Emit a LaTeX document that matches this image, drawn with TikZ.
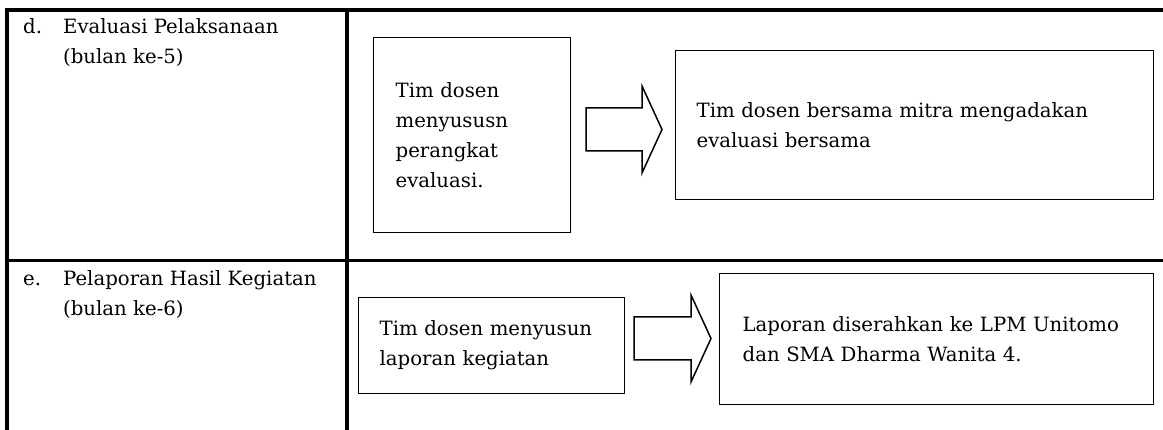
\documentclass[tikz,border=0pt]{standalone}
\usepackage{fontspec}
\setmainfont{DejaVu Serif}
\begin{document}
\begin{tikzpicture}[x=1pt,y=-1pt,
  every node/.style={font=\fontsize{19.7}{30}\selectfont},
  grid/.style={line width=3.8pt, line join=miter},
  box/.style={draw, line width=1.3pt, align=left, anchor=north west, inner ysep=0pt},
  label/.style={anchor=north west, inner sep=0pt, align=left},
  blockarrow/.style={draw, line width=1.5pt, line join=miter}]
\useasboundingbox (0,0) rectangle (1163,430);
% table rules
\draw[grid] (1170,10) -- (7,10) -- (7,440);
\draw[grid] (347,10) -- (347,440);
\draw[grid] (7,260.5) -- (1170,260.5);
% left column
\node[label] (ld) at (23,18) {\makebox[40pt][l]{d.}Evaluasi Pelaksanaan\\\hspace*{40pt}(bulan ke-5)};
\node[label] (le) at (23,270) {\makebox[40pt][l]{e.}Pelaporan Hasil Kegiatan\\\hspace*{40pt}(bulan ke-6)};
% row d
\node[box, text width=153pt, inner xsep=22pt, minimum height=195pt] (d1) at (373,37) {Tim dosen\\menyususn\\perangkat\\evaluasi.};
\node[box, text width=436pt, inner xsep=21pt, minimum height=149pt] (d2) at (675,50) {Tim dosen bersama mitra mengadakan\\evaluasi bersama};
\coordinate (a1) at (586,128.5);
\draw[blockarrow] (a1) ++(0,-20.5) -- ++(56,0) -- ++(0,-22) -- ++(20,43.5) -- ++(-20,43.5) -- ++(0,-22) -- ++(-56,0) -- cycle;
% row e
\node[box, text width=224pt, inner xsep=21pt, minimum height=96pt] (e1) at (358,297) {Tim dosen menyusun\\laporan kegiatan};
\node[box, text width=388pt, inner xsep=23pt, minimum height=131pt] (e2) at (719,273) {Laporan diserahkan ke LPM Unitomo\\dan SMA Dharma Wanita 4.};
\coordinate (a2) at (634,337.5);
\draw[blockarrow] (a2) ++(0,-20.5) -- ++(57,0) -- ++(0,-22) -- ++(20,43.5) -- ++(-20,43.5) -- ++(0,-22) -- ++(-57,0) -- cycle;
\end{tikzpicture}
\end{document}
